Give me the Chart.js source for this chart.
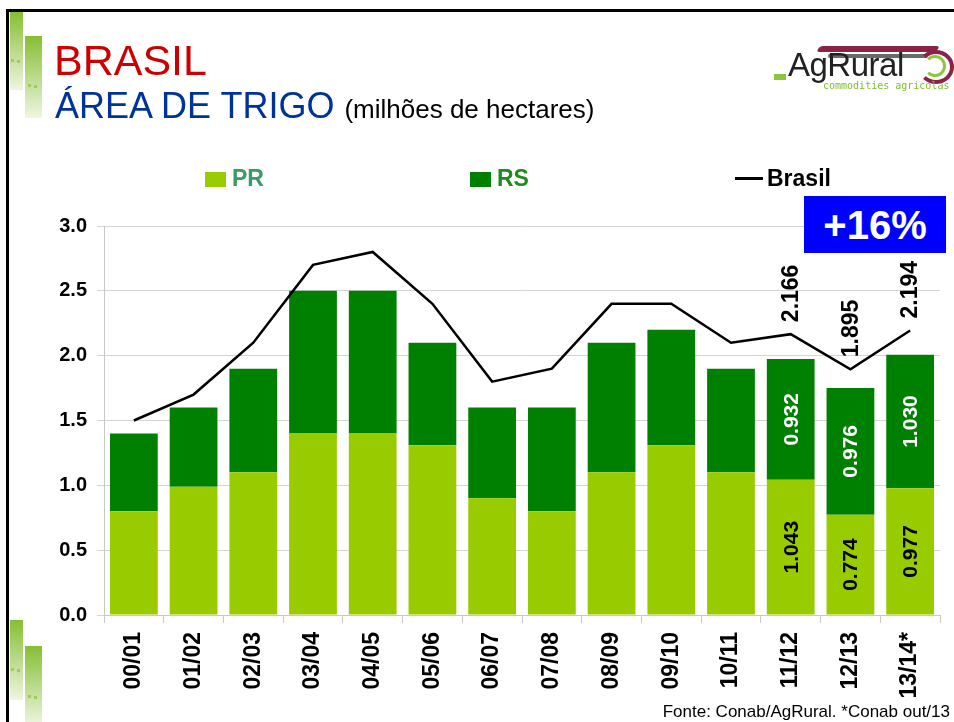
<!DOCTYPE html>
<html>
<head>
<meta charset="utf-8">
<script src="https://cdn.jsdelivr.net/npm/chart.js@4"></script>
<style>
  body { margin: 0; background: #fff; font-family: Arial, "Liberation Sans", sans-serif; }
  #page { position: relative; width: 954px; height: 722px; overflow: hidden; background: #fff; }
  #chart { position: absolute; left: 0; top: 0; }
  .frame-top { position: absolute; left: 6px; top: 9px; width: 948px; height: 3px; background: #000; }
  .frame-left { position: absolute; left: 6px; top: 9px; width: 3px; height: 713px; background: #000; }
  .deco { position: absolute; background: linear-gradient(#86bf32, #eef6e2); }
  .deco i { position: absolute; width: 3px; height: 3px; background: #9dcb5c; }
  .title1 { position: absolute; left: 54px; top: 39px; font-size: 43px; line-height: 42px; color: #cc0000; }
  .title2 { position: absolute; left: 55px; top: 88px; font-size: 36px; line-height: 35px; color: #003399; white-space: nowrap; }
  .title2 span { font-size: 26px; color: #000; }
  .logo { position: absolute; left: 768px; top: 36px; width: 186px; height: 60px; }
  .logo .ag { position: absolute; left: 20px; top: 10px; font-size: 33px; color: #222; letter-spacing: -0.5px; }
  .logo .sub { position: absolute; left: 55px; top: 44px; font-size: 10px; color: #7bbf2a; font-family: "DejaVu Sans Mono", monospace; }
  .logo .sq { position: absolute; left: 6px; top: 38px; width: 12px; height: 6px; background: #8cc63f; }
  .logo .sw1 { position: absolute; left: 50px; top: 10px; width: 120px; height: 6px; background: #8b2346; border-radius: 3px; transform: skewX(-30deg); }
  .logo .sw2 { position: absolute; left: 60px; top: 18px; width: 100px; height: 4px; background: #6a6a6a; border-radius: 2px; }
  .logo .ring { position: absolute; left: 150px; top: 14px; width: 28px; height: 26px; border: 4px solid #8b2346; border-left-color: transparent; border-radius: 50%; }
  .logo .ring2 { position: absolute; left: 156px; top: 19px; width: 16px; height: 16px; border: 3px solid #8cc63f; border-left-color: transparent; border-radius: 50%; }
  .legend { position: absolute; top: 165px; font-size: 23px; line-height: 26px; font-weight: bold; white-space: nowrap; }
  .legend .box { display: inline-block; width: 21px; height: 15px; vertical-align: -1px; margin-right: 6px; }
  .legend .ln { display: inline-block; width: 28px; height: 3px; background: #000; vertical-align: 6px; margin-right: 4px; }
  .badge { position: absolute; left: 804px; top: 196px; width: 142px; height: 57px; background: #0000ff; color: #fff; font-size: 40px; font-weight: bold; text-align: center; line-height: 58px; }
  .source { position: absolute; right: 4px; top: 703px; font-size: 17px; line-height: 18px; color: #000; white-space: nowrap; }
</style>
</head>
<body>
<div id="page">
  <canvas id="chart" width="954" height="722"></canvas>
  <div class="frame-top"></div>
  <div class="frame-left"></div>
  <div class="deco" style="left:10px;top:12px;width:13px;height:78px"><i style="left:1px;top:47px"></i><i style="left:7px;top:48px"></i></div>
  <div class="deco" style="left:25px;top:36px;width:17px;height:82px"><i style="left:3px;top:48px"></i><i style="left:9px;top:49px"></i></div>
  <div class="deco" style="left:10px;top:620px;width:13px;height:80px"><i style="left:1px;top:48px"></i><i style="left:7px;top:49px"></i></div>
  <div class="deco" style="left:25px;top:646px;width:17px;height:80px"><i style="left:3px;top:49px"></i><i style="left:9px;top:50px"></i></div>

  <div class="title1">BRASIL</div>
  <div class="title2">ÁREA DE TRIGO <span>(milhões de hectares)</span></div>

  <div class="logo">
    <div class="sw1"></div><div class="sw2"></div>
    <div class="ring"></div><div class="ring2"></div>
    <div class="sq"></div>
    <div class="ag">AgRural</div>
    <div class="sub">commodities agricolas</div>
  </div>

  <div class="legend" style="left:205px;color:#3a9a6a"><span class="box" style="background:#99cc00"></span>PR</div>
  <div class="legend" style="left:470px;color:#1f8a1f"><span class="box" style="background:#008000"></span>RS</div>
  <div class="legend" style="left:735px;color:#000"><span class="ln"></span>Brasil</div>

  <div class="badge">+16%</div>
  <div class="source">Fonte: Conab/AgRural. *Conab out/13</div>
</div>

<script>
// dados (milhões de hectares)
const safras = ["00/01", "01/02", "02/03", "03/04", "04/05", "05/06", "06/07",
  "07/08", "08/09", "09/10", "10/11", "11/12", "12/13", "13/14*"];
const areaPR = [0.8, 0.99, 1.1, 1.4, 1.4, 1.31, 0.9, 0.8, 1.1, 1.31, 1.1, 1.043, 0.774, 0.977];
const areaRS = [0.6, 0.61, 0.8, 1.1, 1.1, 0.79, 0.7, 0.8, 1.0, 0.89, 0.8, 0.932, 0.976, 1.030];
const areaBrasil = [1.5, 1.7, 2.1, 2.7, 2.8, 2.4, 1.8, 1.9, 2.4, 2.4, 2.1, 2.166, 1.895, 2.194];
const yTicks = [0, 0.5, 1.0, 1.5, 2.0, 2.5, 3.0];

// índices que levam rótulo de valor
const labeled = [11, 12, 13];

const fmt = (v) => v.toFixed(3);
const FONT = "Arial, 'Liberation Sans', sans-serif";

// rótulos verticais (barras e linha)
const verticalLabels = {
  id: "verticalLabels",
  afterDatasetsDraw(chart) {
    const ctx = chart.ctx;
    ctx.save();
    ctx.textBaseline = "middle";
    ctx.textAlign = "center";
    chart.data.datasets.forEach((ds, di) => {
      const meta = chart.getDatasetMeta(di);
      labeled.forEach((i) => {
        const el = meta.data[i];
        if (!el) return;
        const text = fmt(ds.data[i]);
        let cx, cy;
        if (ds.type === "line") {
          ctx.font = "bold 23px " + FONT;
          const w = ctx.measureText(text).width;
          cx = el.x;
          cy = el.y - 12 - w / 2;
          ctx.fillStyle = "#000";
        } else {
          ctx.font = "bold 21px " + FONT;
          cx = el.x;
          cy = (el.y + el.base) / 2;
          ctx.fillStyle = ds.labelColor;
        }
        ctx.save();
        ctx.translate(cx, cy);
        ctx.rotate(-Math.PI / 2);
        ctx.fillText(text, 0, 1);
        ctx.restore();
      });
    });
    ctx.restore();
  },
};

new Chart(document.getElementById("chart"), {
  data: {
    labels: safras,
    datasets: [
      {
        type: "line",
        label: "Brasil",
        data: areaBrasil,
        borderColor: "#000",
        borderWidth: 2.5,
        pointRadius: 0,
        tension: 0,
        order: 0,
      },
      {
        type: "bar",
        label: "PR",
        data: areaPR,
        backgroundColor: "#99cc00",
        labelColor: "#000",
        categoryPercentage: 0.8,
        barPercentage: 1.0,
        order: 1,
      },
      {
        type: "bar",
        label: "RS",
        data: areaRS,
        backgroundColor: "#008000",
        labelColor: "#fff",
        categoryPercentage: 0.8,
        barPercentage: 1.0,
        order: 1,
      },
    ],
  },
  options: {
    responsive: false,
    animation: false,
    layout: { padding: { top: 226, right: 14, left: 0, bottom: 0 } },
    plugins: {
      legend: { display: false },
      tooltip: { enabled: false },
    },
    scales: {
      x: {
        stacked: true,
        grid: {
          display: true,
          offset: true,
          drawOnChartArea: false,
          drawTicks: true,
          tickLength: 8,
          color: "#c8c8c8",
        },
        border: { color: "#c8c8c8" },
        ticks: {
          color: "#000",
          font: { family: FONT, size: 23, weight: "bold" },
          minRotation: 90,
          maxRotation: 90,
          padding: 9,
        },
        afterFit: (scale) => { scale.height = 107; },
      },
      y: {
        stacked: true,
        min: 0,
        max: 3,
        afterBuildTicks: (scale) => {
          scale.ticks = yTicks.map((v) => ({ value: v }));
        },
        grid: {
          color: "#d4d4d4",
          tickLength: 7,
        },
        border: { color: "#c8c8c8" },
        ticks: {
          color: "#000",
          font: { family: FONT, size: 20, weight: "bold" },
          padding: 10,
          callback: (v) => Number(v).toFixed(1),
        },
        afterFit: (scale) => { scale.width = 104; },
      },
    },
  },
  plugins: [verticalLabels],
});
</script>
</body>
</html>
